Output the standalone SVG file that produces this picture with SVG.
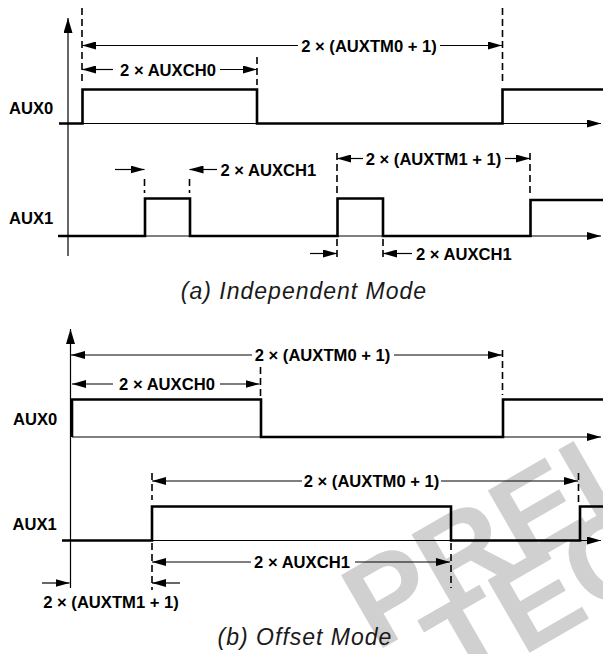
<svg xmlns="http://www.w3.org/2000/svg" width="603" height="654" viewBox="0 0 603 654">
<style>
.wm{font-family:"Liberation Sans",Arial,sans-serif;font-weight:bold;font-size:122px;fill:#d0d0d0}
.lbl{font-family:"Liberation Sans",Arial,sans-serif;font-weight:bold;font-size:16.6px;fill:#000}
.cap{font-family:"Liberation Sans",Arial,sans-serif;font-style:italic;font-size:23px;letter-spacing:1px;fill:#1a1a1a}
.sig{fill:none;stroke:#000;stroke-width:2.6;stroke-linejoin:miter}
.ax{fill:none;stroke:#000;stroke-width:1.2}
.dim{fill:none;stroke:#000;stroke-width:1.2;marker-end:url(#ah)}
.dash{fill:none;stroke:#000;stroke-width:1.6;stroke-dasharray:7 4}
</style>
<defs>
<marker id="ah" viewBox="0 0 14 8" refX="14" refY="4" markerWidth="14" markerHeight="8" markerUnits="userSpaceOnUse" orient="auto"><path d="M0,0 L14,4 L0,8 z" fill="#000"/></marker>
<marker id="vah" viewBox="0 0 15 9" refX="15" refY="4.5" markerWidth="15" markerHeight="9" markerUnits="userSpaceOnUse" orient="auto"><path d="M0,0 L15,4.5 L0,9 z" fill="#000"/></marker>
</defs>
<rect width="603" height="654" fill="#fff"/>
<g id="watermark">
<text class="wm" transform="translate(376,652) rotate(-30)">PRELIMINARY</text>
<text class="wm" transform="translate(458,694) rotate(-30)">TECHNICAL</text>
</g>
<g id="panel-a">
<g id="a-axes">
<line class="ax" x1="68" y1="256" x2="68" y2="18" marker-end="url(#vah)"/>
<line class="ax" x1="59" y1="123.5" x2="601" y2="123.5" marker-end="url(#ah)"/>
<line class="ax" x1="58" y1="236" x2="601" y2="236" marker-end="url(#ah)"/>
</g>
<g id="a-aux0">
<text class="lbl" x="9" y="113.5">AUX0</text>
<path class="sig" d="M59,123.5 H82.5 V89.5 H257 V123.5 H502.5 V89.5 H603"/>
</g>
<g id="a-aux1">
<text class="lbl" x="9" y="224">AUX1</text>
<path class="sig" d="M58,236 H145 V198.5 H190 V236 H337.5 V198.5 H383 V236 H530.5 V200 H603"/>
</g>
<g id="a-connectors">
<line class="dash" x1="82" y1="8" x2="82" y2="85"/>
<line class="dash" x1="257" y1="57" x2="257" y2="85"/>
<line class="dash" x1="502.5" y1="8" x2="502.5" y2="85"/>
<line class="dash" x1="144.5" y1="179" x2="144.5" y2="193"/>
<line class="dash" x1="189.5" y1="179" x2="189.5" y2="193"/>
<line class="dash" x1="337" y1="153" x2="337" y2="195"/>
<line class="dash" x1="530" y1="153" x2="530" y2="195"/>
<line class="dash" x1="337" y1="239" x2="337" y2="259"/>
<line class="dash" x1="383" y1="239" x2="383" y2="259"/>
<line class="dim" x1="298" y1="45.5" x2="82" y2="45.5"/>
<line class="dim" x1="440" y1="45.5" x2="502" y2="45.5"/>
<line class="dim" x1="113" y1="69.5" x2="82" y2="69.5"/>
<line class="dim" x1="220" y1="69.5" x2="257" y2="69.5"/>
<line class="dim" x1="115" y1="169.5" x2="144.5" y2="169.5"/>
<line class="dim" x1="217" y1="169.5" x2="189.5" y2="169.5"/>
<line class="dim" x1="363" y1="158.5" x2="337" y2="158.5"/>
<line class="dim" x1="505" y1="158.5" x2="530" y2="158.5"/>
<line class="dim" x1="310" y1="253.5" x2="337" y2="253.5"/>
<line class="dim" x1="412" y1="253.5" x2="383" y2="253.5"/>
</g>
<g id="a-labels">
<text class="lbl" x="369" y="51.5" text-anchor="middle">2 × (AUXTM0 + 1)</text>
<text class="lbl" x="168" y="75.5" text-anchor="middle">2 × AUXCH0</text>
<text class="lbl" x="220.5" y="175.5">2 × AUXCH1</text>
<text class="lbl" x="433.5" y="164.5" text-anchor="middle">2 × (AUXTM1 + 1)</text>
<text class="lbl" x="416" y="259.5">2 × AUXCH1</text>
</g>
<text id="caption-a" class="cap" x="304" y="299" text-anchor="middle">(a) Independent Mode</text>
</g>
<g id="panel-b">
<g id="b-axes">
<line class="ax" x1="70.5" y1="588" x2="70.5" y2="329" marker-end="url(#vah)"/>
<line class="ax" x1="72" y1="437" x2="601" y2="437" marker-end="url(#ah)"/>
<line class="ax" x1="62" y1="540.5" x2="601" y2="540.5" marker-end="url(#ah)"/>
</g>
<g id="b-aux0">
<text class="lbl" x="13" y="425">AUX0</text>
<path class="sig" d="M72,437 V399.5 H261 V437 H503 V399.5 H603"/>
</g>
<g id="b-aux1">
<text class="lbl" x="12.5" y="530">AUX1</text>
<path class="sig" d="M62,540.5 H152 V506.5 H451 V540.5 H580 V506.5 H603"/>
</g>
<g id="b-connectors">
<line class="dash" x1="502.5" y1="350" x2="502.5" y2="395"/>
<line class="dash" x1="260.5" y1="367" x2="260.5" y2="396"/>
<line class="dash" x1="152" y1="473" x2="152" y2="500"/>
<line class="dash" x1="578.5" y1="473" x2="578.5" y2="503"/>
<line class="dash" x1="152" y1="543" x2="152" y2="590"/>
<line class="dash" x1="451" y1="543" x2="451" y2="588"/>
<line class="dim" x1="252" y1="355" x2="71" y2="355"/>
<line class="dim" x1="394" y1="355" x2="502" y2="355"/>
<line class="dim" x1="113" y1="384" x2="72" y2="384"/>
<line class="dim" x1="220" y1="384" x2="259.5" y2="384"/>
<line class="dim" x1="302" y1="481" x2="152" y2="481"/>
<line class="dim" x1="441" y1="481" x2="578" y2="481"/>
<line class="dim" x1="251" y1="562" x2="152" y2="562"/>
<line class="dim" x1="355" y1="562" x2="450" y2="562"/>
<line class="dim" x1="42" y1="583" x2="69.5" y2="583"/>
<line class="dim" x1="180" y1="583" x2="152" y2="583"/>
</g>
<g id="b-labels">
<text class="lbl" x="322.5" y="361" text-anchor="middle">2 × (AUXTM0 + 1)</text>
<text class="lbl" x="167" y="390" text-anchor="middle">2 × AUXCH0</text>
<text class="lbl" x="371.5" y="487" text-anchor="middle">2 × (AUXTM0 + 1)</text>
<text class="lbl" x="302" y="568" text-anchor="middle">2 × AUXCH1</text>
<text class="lbl" x="111" y="608" text-anchor="middle">2 × (AUXTM1 + 1)</text>
</g>
<text id="caption-b" class="cap" x="305" y="645" text-anchor="middle">(b) Offset Mode</text>
</g>
</svg>
